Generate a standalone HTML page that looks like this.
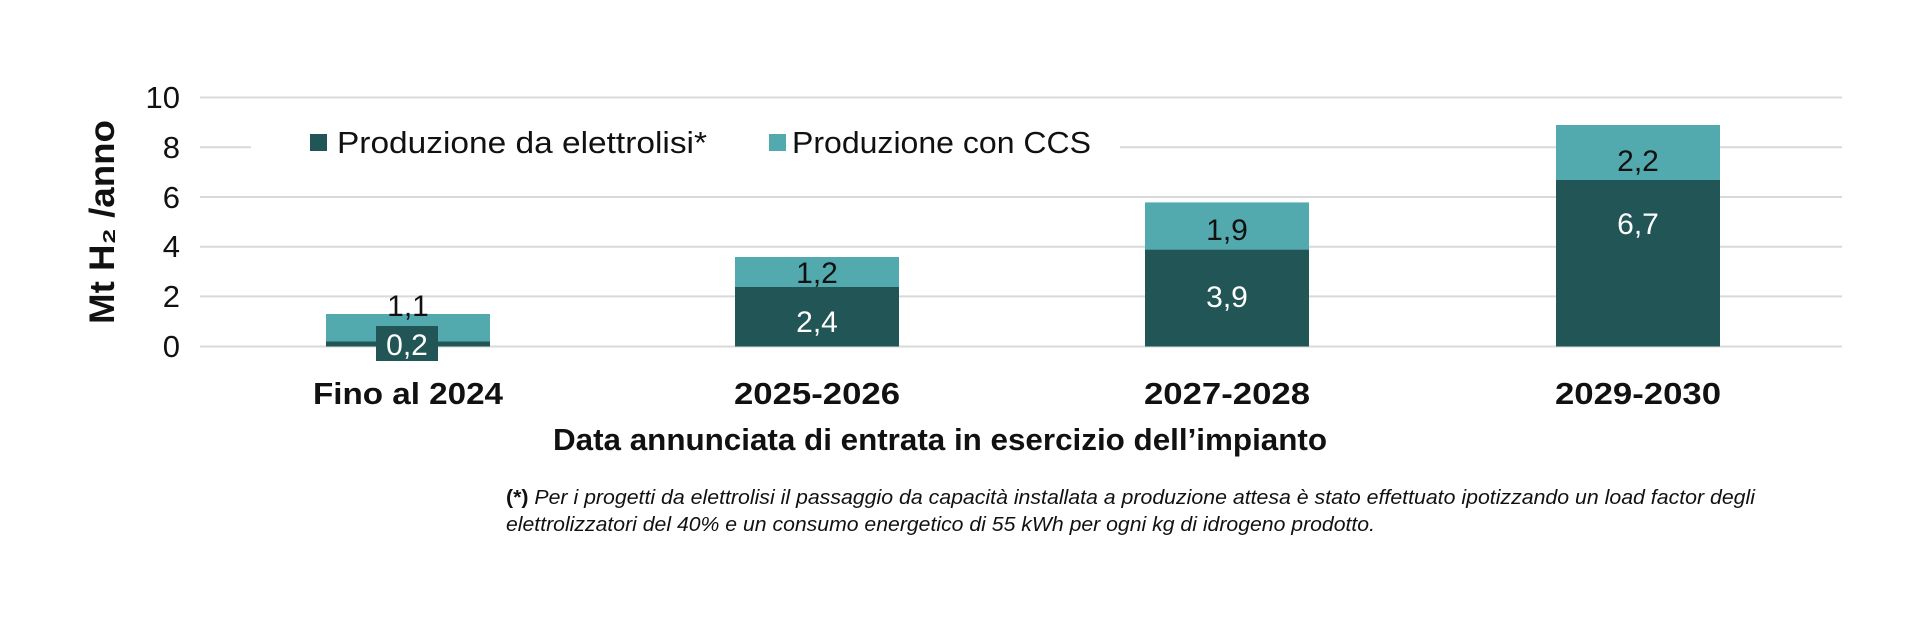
<!DOCTYPE html>
<html><head><meta charset="utf-8"><style>
body{margin:0;background:#fff;}
svg{display:block;font-family:"Liberation Sans",sans-serif;}
</style></head><body>
<svg width="1920" height="629" viewBox="0 0 1920 629">
<g stroke="#d9d9d9" stroke-width="2">
<line x1="200" x2="1842" y1="97.5" y2="97.5"/>
<line x1="200" x2="251" y1="147.2" y2="147.2"/>
<line x1="1120" x2="1842" y1="147.2" y2="147.2"/>
<line x1="200" x2="1842" y1="197" y2="197"/>
<line x1="200" x2="1842" y1="246.7" y2="246.7"/>
<line x1="200" x2="1842" y1="296.4" y2="296.4"/>
<line x1="200" x2="1842" y1="346.5" y2="346.5"/>
</g>
<g font-size="31" fill="#111" text-anchor="end">
<text x="180" y="108">10</text><text x="180" y="158">8</text><text x="180" y="208">6</text>
<text x="180" y="257">4</text><text x="180" y="307">2</text><text x="180" y="357">0</text>
</g>
<text transform="translate(114,222) rotate(-90)" font-size="35" font-weight="bold" text-anchor="middle" fill="#111" textLength="204" lengthAdjust="spacingAndGlyphs">Mt H₂ /anno</text>
<rect x="310" y="134" width="17" height="17" fill="#215556"/>
<text x="337" y="153" font-size="31" fill="#111" textLength="370" lengthAdjust="spacingAndGlyphs">Produzione da elettrolisi*</text>
<rect x="769" y="134" width="17" height="17" fill="#52aaae"/>
<text x="792" y="153" font-size="31" fill="#111" textLength="299" lengthAdjust="spacingAndGlyphs">Produzione con CCS</text>
<rect x="326" y="314" width="164" height="28" fill="#52aaae"/>
<rect x="326" y="341.5" width="164" height="5" fill="#215556"/>
<rect x="376" y="326" width="62" height="35" fill="#215556"/>
<rect x="735" y="257" width="164" height="30" fill="#52aaae"/>
<rect x="735" y="287" width="164" height="59.5" fill="#215556"/>
<rect x="1145" y="202.4" width="164" height="47.2" fill="#52aaae"/>
<rect x="1145" y="249.6" width="164" height="96.9" fill="#215556"/>
<rect x="1556" y="125" width="164" height="55" fill="#52aaae"/>
<rect x="1556" y="180" width="164" height="166.5" fill="#215556"/>
<g font-size="30" text-anchor="middle">
<text x="408" y="316" fill="#111">1,1</text>
<text x="407" y="355" fill="#fff">0,2</text>
<text x="817" y="283" fill="#111">1,2</text>
<text x="817" y="332" fill="#fff">2,4</text>
<text x="1227" y="240" fill="#111">1,9</text>
<text x="1227" y="307" fill="#fff">3,9</text>
<text x="1638" y="171" fill="#111">2,2</text>
<text x="1638" y="234" fill="#fff">6,7</text>
</g>
<g font-size="31" font-weight="bold" text-anchor="middle" fill="#111">
<text x="408" y="404" textLength="190" lengthAdjust="spacingAndGlyphs">Fino al 2024</text>
<text x="817" y="404" textLength="166" lengthAdjust="spacingAndGlyphs">2025-2026</text>
<text x="1227" y="404" textLength="166" lengthAdjust="spacingAndGlyphs">2027-2028</text>
<text x="1638" y="404" textLength="166" lengthAdjust="spacingAndGlyphs">2029-2030</text>
<text x="940" y="450" textLength="774" lengthAdjust="spacingAndGlyphs">Data annunciata di entrata in esercizio dell’impianto</text>
</g>
<g font-size="20" font-style="italic" fill="#111">
<text x="506" y="504" textLength="1249" lengthAdjust="spacingAndGlyphs"><tspan font-weight="bold" font-style="normal">(*)</tspan> Per i progetti da elettrolisi il passaggio da capacità installata a produzione attesa è stato effettuato ipotizzando un load factor degli</text>
<text x="506" y="531" textLength="869" lengthAdjust="spacingAndGlyphs">elettrolizzatori del 40% e un consumo energetico di 55 kWh per ogni kg di idrogeno prodotto.</text>
</g>
</svg>
</body></html>
